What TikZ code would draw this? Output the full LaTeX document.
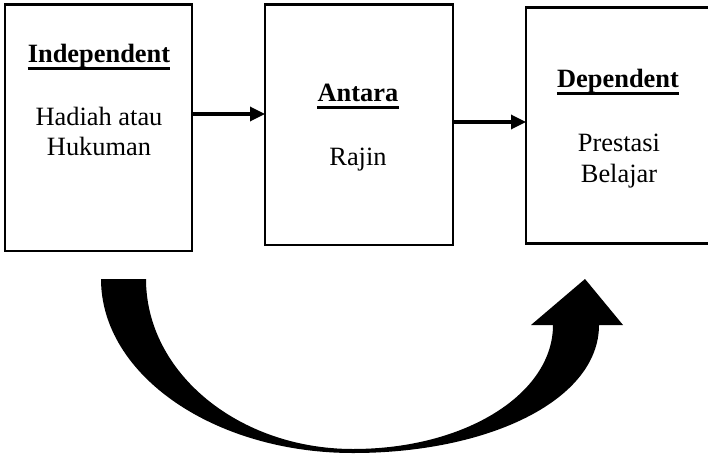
\documentclass[tikz,border=0pt]{standalone}
\usepackage{fontspec}
\setmainfont{Liberation Serif}
\usetikzlibrary{arrows.meta}
\begin{document}
\begin{tikzpicture}[x=1pt,y=-1pt,
  box/.style={draw,line width=2.7pt,inner sep=0pt,outer sep=0pt},
  lbl/.style={anchor=base,inner sep=0pt,font=\fontsize{26.4}{30}\selectfont},
  head/.style={lbl,font=\fontsize{26.4}{30}\selectfont\bfseries},
  uline/.style={line width=3pt},
  conn/.style={line width=3.3pt,-{Triangle[length=15pt,width=14pt]}}]
\useasboundingbox (0,0) rectangle (708,457);
% boxes
\node[box,minimum width=187pt,minimum height=246.5pt] (b1) at (98.5,127.7) {};
\node[box,minimum width=188pt,minimum height=240.5pt] (b2) at (359,124.7) {};
\node[box,minimum width=190pt,minimum height=236pt] (b3) at (621,125.3) {};
% texts
\node[head] (t1a) at (99,63) {Independent};
\node[lbl] (t1b) at (99,126) {Hadiah atau};
\node[lbl] (t1c) at (99,156) {Hukuman};
\node[head] (t2a) at (358,102) {Antara};
\node[lbl] (t2b) at (358,165) {Rajin};
\node[head] (t3a) at (618,88) {Dependent};
\node[lbl] (t3b) at (619,152) {Prestasi};
\node[lbl] (t3c) at (619,182) {Belajar};
% underlines
\draw[uline] ([yshift=-5.5pt]t1a.base west) -- ([yshift=-5.5pt]t1a.base east);
\draw[uline] ([yshift=-5.5pt]t2a.base west) -- ([yshift=-5.5pt]t2a.base east);
\draw[uline] ([yshift=-5.5pt]t3a.base west) -- ([yshift=-5.5pt]t3a.base east);
% connectors
\coordinate (y1) at (0,114);
\coordinate (y2) at (0,122);
\draw[conn] (b1.east |- y1) -- (b2.west |- y1);
\draw[conn] (b2.east |- y2) -- (b3.west |- y2);
% big curved arrow
\fill (101,279) -- (146,279)
  .. controls (146,373) and (239,449) .. (353,449)
  .. controls (465,449) and (553,394) .. (553,325)
  -- (531,325) -- (585,279) -- (623,325) -- (599,325)
  .. controls (599,400) and (489,453) .. (353,453)
  .. controls (214,453) and (101,375) .. (101,279) -- cycle;
\end{tikzpicture}
\end{document}
